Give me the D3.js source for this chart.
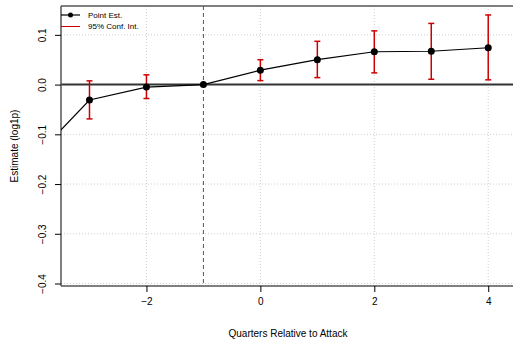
<!DOCTYPE html>
<html>
<head>
<meta charset="utf-8">
<script src="https://cdn.jsdelivr.net/npm/d3@7"></script>
<style>
  body { margin: 0; background: #fff; }
  text { font-family: "Liberation Sans", Arial, sans-serif; fill: #000; }
</style>
</head>
<body>
<div id="chart"></div>
<script>
// event-study estimates
var quarters = [-4, -3, -2, -1, 0, 1, 2, 3, 4];
var estimates = [-0.151, -0.031, -0.005, 0.0, 0.029, 0.050, 0.066, 0.067, 0.074];
var ciLower = [-0.19, -0.069, -0.028, 0.0, 0.008, 0.014, 0.0235, 0.0107, 0.0095];
var ciUpper = [-0.11, 0.0075, 0.0196, 0.0, 0.050, 0.087, 0.108, 0.123, 0.140];
var xTicks = [-2, 0, 2, 4];
var yTicks = [-0.4, -0.3, -0.2, -0.1, 0.0, 0.1];

var W = 513, H = 344;
var margin = {top: 6, left: 61, bottom: 58, right: -2};
var width = W - margin.left - margin.right,
  height = H - margin.top - margin.bottom;

var svg = d3.select("#chart").append("svg")
  .attr("width", W)
  .attr("height", H);

var chart = svg.append("g")
  .attr("transform", "translate(" + margin.left + "," + margin.top + ")");

// scales
var x = d3.scaleLinear().domain([-3.5, 4.47]).range([0, width]);
var y = d3.scaleLinear().domain([-0.405, 0.158]).range([height, 0]);

chart.append("clipPath").attr("id", "clip")
  .append("rect").attr("width", width).attr("height", height);

// dotted grid
chart.selectAll(".vgrid").data(xTicks).enter().append("line")
  .attr("x1", function(d) { return x(d); })
  .attr("x2", function(d) { return x(d); })
  .attr("y1", 0).attr("y2", height)
  .attr("stroke", "#cfcfcf").attr("stroke-dasharray", "1,2");
chart.selectAll(".hgrid").data(yTicks).enter().append("line")
  .attr("x1", 0).attr("x2", width)
  .attr("y1", function(d) { return y(d); })
  .attr("y2", function(d) { return y(d); })
  .attr("stroke", "#cfcfcf").attr("stroke-dasharray", "1,2");

// reference lines
chart.append("line")
  .attr("x1", 0).attr("x2", width)
  .attr("y1", y(0)).attr("y2", y(0))
  .attr("stroke", "#333").attr("stroke-width", 2);
chart.append("line")
  .attr("x1", x(-1)).attr("x2", x(-1))
  .attr("y1", 0).attr("y2", height)
  .attr("stroke", "#555").attr("stroke-dasharray", "4,3");

// frame
chart.append("line").attr("x1", 0).attr("x2", width).attr("y1", 0).attr("y2", 0)
  .attr("stroke", "#555").attr("stroke-width", 1.5);
chart.append("line").attr("x1", 0).attr("x2", width).attr("y1", height).attr("y2", height)
  .attr("stroke", "#555").attr("stroke-width", 1.5);
chart.append("line").attr("x1", 0).attr("x2", 0).attr("y1", 0).attr("y2", height)
  .attr("stroke", "#555").attr("stroke-width", 1.5);

// axes
var xAxis = d3.axisBottom(x).tickValues(xTicks).tickSize(6).tickPadding(6)
  .tickFormat(function(d) { return d < 0 ? "\u2212" + Math.abs(d) : d; });
var gx = chart.append("g")
  .attr("transform", "translate(0," + height + ")")
  .call(xAxis);
gx.select(".domain").remove();
gx.selectAll("text").style("font-size", "10px");

var yAxis = d3.axisLeft(y).tickValues(yTicks).tickSize(6)
  .tickFormat(function(d) { return d < 0 ? "\u2212" + Math.abs(d).toFixed(1) : d.toFixed(1); });
var gy = chart.append("g").call(yAxis);
gy.select(".domain").remove();
gy.selectAll("text")
  .attr("transform", "rotate(-90)")
  .attr("x", 0).attr("y", -19)
  .attr("dy", "0.35em")
  .style("text-anchor", "middle")
  .style("font-size", "10px");

// axis titles
chart.append("text")
  .attr("x", width / 2).attr("y", height + 51)
  .style("text-anchor", "middle").style("font-size", "10px")
  .text("Quarters Relative to Attack");
chart.append("text")
  .attr("transform", "rotate(-90)")
  .attr("x", -height / 2).attr("y", -43)
  .style("text-anchor", "middle").style("font-size", "10px")
  .text("Estimate (log1p)");

var plot = chart.append("g").attr("clip-path", "url(#clip)");

// confidence intervals
var red = "#cc0000";
quarters.forEach(function(q, i) {
  if (ciLower[i] === ciUpper[i]) return;
  plot.append("line")
    .attr("x1", x(q)).attr("x2", x(q))
    .attr("y1", y(ciLower[i])).attr("y2", y(ciUpper[i]))
    .attr("stroke", red).attr("stroke-width", 1.5);
  [ciLower[i], ciUpper[i]].forEach(function(v) {
    plot.append("line")
      .attr("x1", x(q) - 3).attr("x2", x(q) + 3)
      .attr("y1", y(v)).attr("y2", y(v))
      .attr("stroke", red).attr("stroke-width", 1.5);
  });
});

// point estimate line and dots
var line = d3.line()
  .x(function(d, i) { return x(quarters[i]); })
  .y(function(d) { return y(d); });
plot.append("path")
  .datum(estimates)
  .attr("d", line)
  .attr("fill", "none")
  .attr("stroke", "#000").attr("stroke-width", 1.2);
plot.selectAll(".dot").data(estimates).enter().append("circle")
  .attr("cx", function(d, i) { return x(quarters[i]); })
  .attr("cy", function(d) { return y(d); })
  .attr("r", 3.5)
  .attr("fill", "#000");

// legend
var legend = chart.append("g").attr("transform", "translate(0,9)");
legend.append("line").attr("x1", 0).attr("x2", 19).attr("y1", 0).attr("y2", 0)
  .attr("stroke", "#000").attr("stroke-width", 1.2);
legend.append("circle").attr("cx", 9.5).attr("cy", 0).attr("r", 2.5).attr("fill", "#000");
legend.append("text").attr("x", 27).attr("y", 0).attr("dy", "0.35em")
  .style("font-size", "8px").text("Point Est.");
legend.append("line").attr("x1", 0).attr("x2", 19).attr("y1", 11.5).attr("y2", 11.5)
  .attr("stroke", red).attr("stroke-width", 1);
legend.append("text").attr("x", 27).attr("y", 11.5).attr("dy", "0.35em")
  .style("font-size", "8px").text("95% Conf. Int.");
</script>
</body>
</html>
